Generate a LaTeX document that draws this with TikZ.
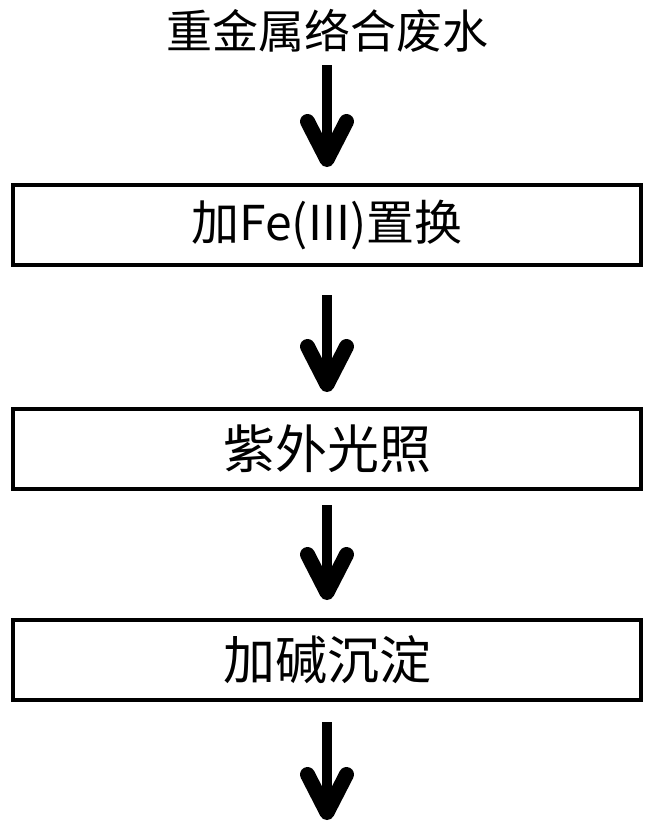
\documentclass[tikz,border=0pt]{standalone}
\usepackage{fontspec}
\newfontfamily\cjk{Noto Sans CJK SC}
\usetikzlibrary{arrows.meta,positioning}

\begin{document}
\begin{tikzpicture}[>={Straight Barb[round,length=38pt,width=39pt,line width'=15pt]}, node distance=140pt]
	\tikzstyle{stepbox}=[draw=black,line width=3.5pt,minimum width=628pt,minimum height=80pt,inner sep=0pt,font=\cjk\fontsize{52pt}{58pt}\selectfont]
	\useasboundingbox (0,0) rectangle (658pt,-835pt);
	\node[inner sep=0pt,text height=38pt,text depth=3pt,font=\cjk\fontsize{46pt}{50pt}\selectfont] (T) at (327pt,-31pt) {重金属络合废水};
	\node[stepbox,font=\cjk\fontsize{48pt}{54pt}\selectfont] (A) at (327pt,-224.75pt) {加Fe(III)置换};
	\node[stepbox] (B)[below = 140.5pt of A] {紫外光照};
	\node[stepbox] (C)[below = 127.5pt of B] {加碱沉淀};
	\coordinate[below = 118.5pt of C] (E);
	\path[->, line width=10pt]
	(T) edge[shorten <=13.5pt, shorten >=16pt] (A)
	(A) edge[shorten <=28.5pt, shorten >=15pt] (B)
	(B) edge[shorten <=14.5pt, shorten >=18pt] (C)
	(C) edge[shorten <=20.5pt] (E);
\end{tikzpicture}
\end{document}
